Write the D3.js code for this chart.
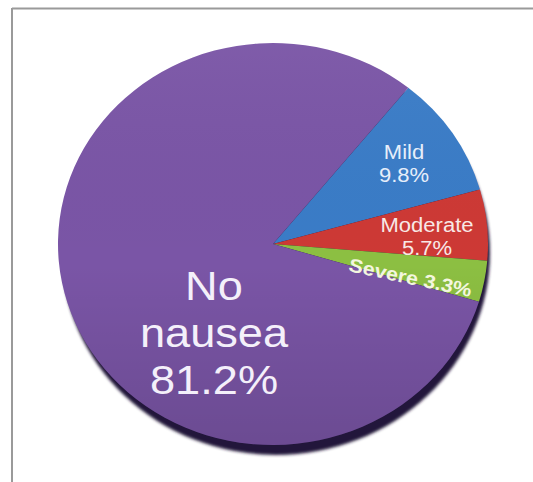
<!DOCTYPE html>
<html>
<head>
<meta charset="utf-8">
<script src="https://cdn.jsdelivr.net/npm/d3@7"></script>
<style>
  html, body { margin: 0; padding: 0; background: #fff; }
  svg { display: block; }
</style>
</head>
<body>
<svg id="chart" width="533" height="482"></svg>
<script>
// Nausea severity shares (%)
const categories = ["Mild", "Moderate", "Severe", "No nausea"];
const values = [9.8, 5.7, 3.3, 81.2];
const colors = ["#3a7cc7", "#cd3935", "#8cbf42", "#7a55a6"];

const W = 533, H = 482;
const svg = d3.select("#chart");

// frame (top and left rules)
svg.append("line").attr("x1", 12).attr("y1", 8.5).attr("x2", W).attr("y2", 8.5)
  .attr("stroke", "#9a9a9a").attr("stroke-width", 2);
svg.append("line").attr("x1", 12).attr("y1", 8).attr("x2", 12).attr("y2", H)
  .attr("stroke", "#9a9a9a").attr("stroke-width", 2);

const cx = 273, cy = 244, rx = 215, ry = 201;
const squash = ry / rx;

const defs = svg.append("defs");
const blur = defs.append("filter").attr("id", "soft").attr("x", "-10%").attr("y", "-10%")
  .attr("width", "120%").attr("height", "120%");
blur.append("feGaussianBlur").attr("stdDeviation", 1.8);

const shade = defs.append("linearGradient").attr("id", "shade")
  .attr("x1", 0).attr("y1", 0).attr("x2", 0).attr("y2", 1);
shade.append("stop").attr("offset", "0%").attr("stop-color", "#fff").attr("stop-opacity", 0.04);
shade.append("stop").attr("offset", "55%").attr("stop-color", "#000").attr("stop-opacity", 0.0);
shade.append("stop").attr("offset", "100%").attr("stop-color", "#000").attr("stop-opacity", 0.12);

// rim shadow under the disc
svg.append("ellipse")
  .attr("cx", cx + 3).attr("cy", cy + 9).attr("rx", rx - 1).attr("ry", ry + 1)
  .attr("fill", "#23173a").attr("filter", "url(#soft)");

const start = 39 * Math.PI / 180;
const pie = d3.pie().sort(null).value(d => d)
  .startAngle(start).endAngle(start + 2 * Math.PI);
const arcs = pie(values);
const arc = d3.arc().innerRadius(0).outerRadius(rx);

const g = svg.append("g")
  .attr("transform", `translate(${cx},${cy}) scale(1,${squash})`);
g.selectAll("path.slice").data(arcs).join("path")
  .attr("class", "slice")
  .attr("d", arc)
  .attr("fill", (d, i) => colors[i]);

// soft vertical shading over the disc
g.append("circle").attr("r", rx).attr("fill", "url(#shade)");

// labels
const font = "Arial, 'Liberation Sans', sans-serif";
function label(x, y, lines, size, lineH, opts = {}) {
  const t = svg.append("text")
    .attr("transform", `translate(${x},${y}) rotate(${opts.rot || 0}) scale(${opts.sx || 1.13},1)`)
    .attr("text-anchor", "middle")
    .attr("font-family", font)
    .attr("font-size", size)
    .attr("font-weight", opts.bold ? "bold" : "normal")
    .attr("fill", opts.fill || "#f4f2fa");
  lines.forEach((s, k) => {
    t.append("tspan").attr("x", 0).attr("y", k * lineH).text(s);
  });
}

const pct = v => v.toFixed(1) + "%";
label(404, 159, [categories[0], pct(values[0])], 19.5, 23, { fill: "#e6eefa" });
label(427, 232, [categories[1], pct(values[1])], 19.5, 23, { fill: "#f8e8e6" });
label(409, 284, [categories[2] + " " + pct(values[2])], 19, 0, { bold: true, rot: 12, fill: "#f3f6df" });
const [w1, w2] = categories[3].split(" ");
label(214, 300, [w1, w2, pct(values[3])], 40, 47, { fill: "#f4f0fa" });
</script>
</body>
</html>
